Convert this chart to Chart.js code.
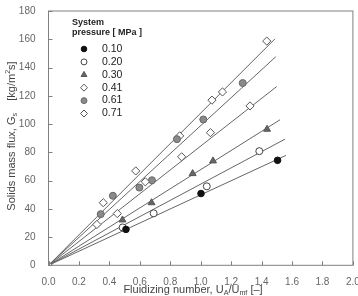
<!DOCTYPE html>
<html>
<head>
<meta charset="utf-8">
<script src="https://cdn.jsdelivr.net/npm/chart.js@4"></script>
<style>
  html, body { margin: 0; padding: 0; background: #fff; }
  #wrap { width: 358px; height: 296px; }
</style>
</head>
<body>
<div id="wrap"><canvas id="chart"></canvas></div>
<script>
// system pressure [MPa]
const pressures = ["0.10", "0.20", "0.30", "0.41", "0.61", "0.71"];

const x010 = [0.509, 1.002, 1.505];
const y010 = [25.4, 50.8, 74.3];
const x020 = [0.487, 0.691, 1.04, 1.385];
const y020 = [26.8, 36.8, 55.9, 80.8];
const x030 = [0.486, 0.677, 0.947, 1.081, 1.436];
const y030 = [32.1, 44.3, 64.9, 73.9, 96.3];
const x041 = [0.318, 0.452, 0.636, 0.875, 1.064, 1.324];
const y041 = [28.9, 36.6, 59.1, 76.8, 93.9, 112.8];
const x061 = [0.343, 0.423, 0.597, 0.68, 0.844, 1.017, 1.276];
const y061 = [36.2, 49.2, 55.0, 60.2, 89.3, 103.2, 129.0];
const x071 = [0, 0.36, 0.573, 0.862, 1.074, 1.143, 1.434];
const y071 = [0, 44.3, 66.8, 91.6, 116.9, 122.7, 158.7];

// fitted lines from the origin, end points
const fitEndX = [1.56, 1.554, 1.521, 1.499, 1.493, 1.488];
const fitEndY = [77.8, 89.3, 103.0, 126.5, 147.6, 160.3];

const xTicks = [0, 0.2, 0.4, 0.6, 0.8, 1.0, 1.2, 1.4, 1.6, 1.8, 2.0];
const yTicks = [0, 20, 40, 60, 80, 100, 120, 140, 160, 180];

const xs = [x010, x020, x030, x041, x061, x071];
const ys = [y010, y020, y030, y041, y061, y071];

const markers = [
  { pointStyle: "circle", radius: 3.3, bg: "#111", border: "#111" },
  { pointStyle: "circle", radius: 3.5, bg: "#fff", border: "#444" },
  { pointStyle: "triangle", radius: 4, bg: "#666", border: "#555" },
  { pointStyle: "rectRot", radius: 4.1, bg: "#fff", border: "#555" },
  { pointStyle: "circle", radius: 3.5, bg: "#8a8a8a", border: "#666" },
  { pointStyle: "rectRot", radius: 4.1, bg: "#fff", border: "#555" },
];

const FONT = "'Liberation Sans', Arial, sans-serif";

function toPoints(xa, ya) {
  return xa.map((x, i) => ({ x: x, y: ya[i] }));
}

const pointSets = pressures.map((p, i) => ({
  type: "scatter",
  label: p,
  data: toPoints(xs[i], ys[i]),
  pointStyle: markers[i].pointStyle,
  pointRadius: markers[i].radius,
  pointBackgroundColor: markers[i].bg,
  pointBorderColor: markers[i].border,
  pointBorderWidth: 1,
  showLine: false,
}));

const fitSets = pressures.map((p, i) => ({
  type: "line",
  label: "fit " + p,
  data: [{ x: 0, y: 0 }, { x: fitEndX[i], y: fitEndY[i] }],
  borderColor: "#666",
  borderWidth: 1,
  pointRadius: 0,
  fill: false,
}));

// draw text made of runs, some of them sub/superscript
function drawRuns(ctx, runs, size) {
  let w = 0;
  for (const r of runs) {
    ctx.font = (r.sub || r.sup ? size * 0.65 : size) + "px " + FONT;
    r.w = ctx.measureText(r.t).width;
    w += r.w;
  }
  let x = -w / 2;
  for (const r of runs) {
    ctx.font = (r.sub || r.sup ? size * 0.65 : size) + "px " + FONT;
    const dy = r.sub ? size * 0.3 : r.sup ? -size * 0.4 : 0;
    ctx.fillText(r.t, x, dy);
    x += r.w;
  }
}

const framePlugin = {
  id: "frame",
  afterDraw(chart) {
    const ctx = chart.ctx;
    const a = chart.chartArea;
    const sx = chart.scales.x;
    const sy = chart.scales.y;
    ctx.save();
    ctx.strokeStyle = "#808080";
    ctx.lineWidth = 1;
    ctx.strokeRect(a.left, a.top, a.right - a.left, a.bottom - a.top);
    // inward ticks
    ctx.beginPath();
    for (const v of xTicks) {
      const px = Math.round(sx.getPixelForValue(v)) + 0.5;
      ctx.moveTo(px, a.bottom);
      ctx.lineTo(px, a.bottom - 4);
    }
    for (const v of yTicks) {
      const py = Math.round(sy.getPixelForValue(v)) + 0.5;
      ctx.moveTo(a.left, py);
      ctx.lineTo(a.left + 4, py);
    }
    ctx.stroke();

    // axis titles
    ctx.fillStyle = "#444";
    ctx.textBaseline = "middle";
    ctx.save();
    ctx.translate(193, 290);
    drawRuns(ctx, [
      { t: "Fluidizing number, U" }, { t: "A", sub: true },
      { t: "/U" }, { t: "mf", sub: true }, { t: " [\u2013]" },
    ], 11);
    ctx.restore();
    ctx.save();
    ctx.translate(12, 136);
    ctx.rotate(-Math.PI / 2);
    drawRuns(ctx, [
      { t: "Solids mass flux, G" }, { t: "s", sub: true },
      { t: "    [kg/m" }, { t: "2", sup: true }, { t: "s]" },
    ], 11);
    ctx.restore();

    // legend
    ctx.fillStyle = "#222";
    ctx.textAlign = "left";
    ctx.font = "bold 9px " + FONT;
    ctx.fillText("System", 72, 23);
    ctx.fillText("pressure [ MPa ]", 72, 33);
    ctx.font = "10.5px " + FONT;
    pressures.forEach((p, i) => {
      const yy = 49 + i * 12.9;
      ctx.fillStyle = markers[i].bg;
      ctx.strokeStyle = markers[i].border;
      Chart.helpers.drawPoint(ctx, {
        pointStyle: markers[i].pointStyle,
        radius: markers[i].radius * 0.85,
        borderWidth: 1,
      }, 84, yy);
      ctx.fillStyle = "#222";
      ctx.fillText(p, 102, yy);
    });
    ctx.restore();
  },
};

new Chart(document.getElementById("chart"), {
  type: "scatter",
  data: { datasets: pointSets.concat(fitSets) },
  options: {
    responsive: true,
    maintainAspectRatio: false,
    animation: false,
    layout: { padding: { top: 7, right: 5, left: 0, bottom: 0 } },
    plugins: {
      legend: { display: false },
      tooltip: { enabled: false },
    },
    scales: {
      x: {
        type: "linear",
        min: 0,
        max: 2,
        afterBuildTicks: (s) => { s.ticks = xTicks.map((v) => ({ value: v })); },
        afterFit: (s) => { s.height = 30.7; s.paddingRight = 0; s.paddingLeft = 0; },
        grid: { display: false },
        border: { display: false },
        ticks: {
          color: "#666",
          font: { family: FONT, size: 10 },
          padding: 3,
          maxRotation: 0,
          autoSkip: false,
          callback: (v) => Number(v).toFixed(1),
        },
      },
      y: {
        type: "linear",
        min: 0,
        max: 180,
        afterBuildTicks: (s) => { s.ticks = yTicks.map((v) => ({ value: v })); },
        afterFit: (s) => { s.width = 48.5; },
        grid: { display: false },
        border: { display: false },
        ticks: {
          color: "#666",
          font: { family: FONT, size: 10 },
          padding: 5,
          autoSkip: false,
        },
      },
    },
  },
  plugins: [framePlugin],
});
</script>
</body>
</html>
